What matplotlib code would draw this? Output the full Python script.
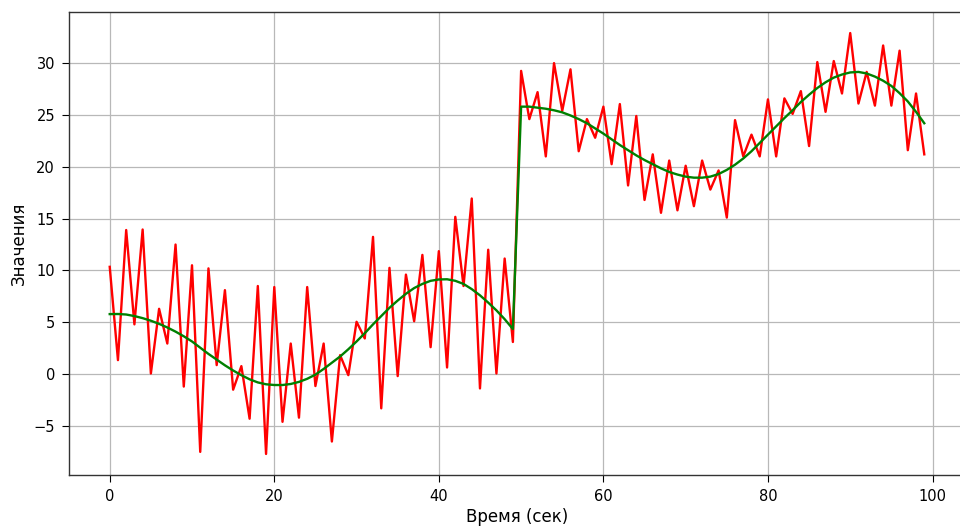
import matplotlib
matplotlib.use("Agg")
import matplotlib.pyplot as plt
import numpy as np

time_sec = list(range(100))

noisy = [10.35, 1.35, 13.9, 4.8, 13.95, 0.06, 6.3, 2.95, 12.5, -1.2,
         10.5, -7.5, 10.2, 0.87, 8.1, -1.5, 0.77, -4.3, 8.5, -7.7,
         8.4, -4.6, 2.95, -4.2, 8.4, -1.15, 2.95, -6.5, 1.83, -0.1,
         5.05, 3.44, 13.24, -3.3, 10.25, -0.19, 9.6, 5.1, 11.5, 2.6,
         11.86, 0.64, 15.17, 8.5, 16.94, -1.38, 12.0, 0.06, 11.15, 3.1,
         29.25, 24.6, 27.2, 21.0, 30.0, 25.4, 29.4, 21.5, 24.6, 22.8,
         25.8, 20.25, 26.05, 18.2, 24.9, 16.8, 21.2, 15.56, 20.6, 15.8,
         20.1, 16.2, 20.6, 17.8, 19.65, 15.1, 24.5, 21.0, 23.1, 21.0,
         26.5, 21.0, 26.6, 25.1, 27.3, 22.0, 30.1, 25.3, 30.2, 27.07,
         32.9, 26.1, 29.15, 25.9, 31.7, 25.9, 31.2, 21.6, 27.07, 21.2]

smooth = [5.79, 5.8, 5.75, 5.6, 5.4, 5.15, 4.85, 4.5, 4.1, 3.65,
          3.15, 2.55, 1.95, 1.4, 0.85, 0.35, -0.1, -0.5, -0.8, -0.98,
          -1.05, -1.05, -0.95, -0.75, -0.45, -0.05, 0.5, 1.1, 1.7, 2.4,
          3.15, 3.95, 4.8, 5.6, 6.4, 7.1, 7.75, 8.3, 8.7, 9.0,
          9.13, 9.15, 9.0, 8.7, 8.2, 7.6, 6.9, 6.15, 5.3, 4.35,
          25.8, 25.8, 25.7, 25.6, 25.45, 25.25, 24.95, 24.6, 24.2, 23.7,
          23.2, 22.65, 22.1, 21.6, 21.1, 20.65, 20.25, 19.85, 19.5, 19.25,
          19.05, 18.95, 18.95, 19.05, 19.3, 19.7, 20.2, 20.8, 21.5, 22.3,
          23.1, 23.9, 24.7, 25.45, 26.25, 26.95, 27.6, 28.15, 28.6, 28.9,
          29.1, 29.15, 29.0, 28.7, 28.3, 27.8, 27.1, 26.3, 25.3, 24.2]

fig = plt.figure(figsize=(9.6, 5.26), dpi=100)
ax = fig.add_axes([69 / 960, 51 / 526, (965 - 69) / 960, (475 - 12) / 526])
ax.plot(time_sec, noisy, color="red", linewidth=1.7)
ax.plot(time_sec, smooth, color="green", linewidth=1.7)
ax.set_xlabel("Время (сек)", fontsize=12, labelpad=3)
ax.set_ylabel("Значения", fontsize=12, labelpad=4)
ax.tick_params(labelsize=10.5, length=5, pad=5)
for s in ax.spines.values():
    s.set_color("#333333")
    s.set_linewidth(1.0)
ax.grid(True, color="#b8b8b8", linewidth=0.9)
fig.savefig("out.png", dpi=100)
